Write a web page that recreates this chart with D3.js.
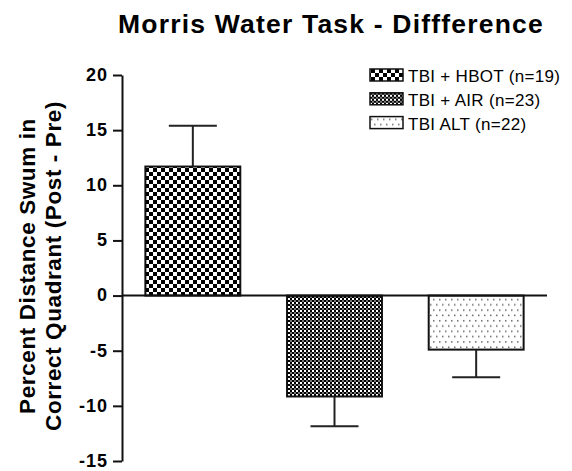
<!DOCTYPE html>
<html>
<head>
<meta charset="utf-8">
<script src="https://cdn.jsdelivr.net/npm/d3@7"></script>
<style>
  body { margin: 0; background: #fff; }
  text { font-family: "Liberation Sans", Arial, sans-serif; }
</style>
</head>
<body>
<div class="chart"></div>
<script>
/** chart data */
const groups = ['TBI + HBOT', 'TBI + AIR', 'TBI ALT'];
const legendLabels = ['TBI + HBOT (n=19)', 'TBI + AIR (n=23)', 'TBI ALT (n=22)'];
const means = [11.7, -9.15, -4.9];
const errors = [3.7, 2.7, 2.5];
const yTicks = [20, 15, 10, 5, 0, -5, -10, -15];

/** canvas */
let width = 572, height = 471;
let margin = { top: 75, right: 25, bottom: 10, left: 122 };

let svg = d3.select('.chart').append('svg')
    .attr('width', width)
    .attr('height', height);

/** fill patterns */
let defs = svg.append('defs');

let p1 = defs.append('pattern')
    .attr('id', 'pat0')
    .attr('patternUnits', 'userSpaceOnUse')
    .attr('x', 145).attr('y', 0)
    .attr('width', 8).attr('height', 8);
p1.append('rect').attr('width', 8).attr('height', 8).attr('fill', '#fff');
p1.append('rect').attr('width', 4).attr('height', 4).attr('fill', '#000');
p1.append('rect').attr('x', 4).attr('y', 4).attr('width', 4).attr('height', 4).attr('fill', '#000');

let p2 = defs.append('pattern')
    .attr('id', 'pat1')
    .attr('patternUnits', 'userSpaceOnUse')
    .attr('width', 4).attr('height', 4);
p2.append('rect').attr('width', 4).attr('height', 4).attr('fill', '#fff');
p2.append('rect').attr('width', 2).attr('height', 2).attr('fill', '#000');
p2.append('rect').attr('x', 2).attr('y', 2).attr('width', 2).attr('height', 2).attr('fill', '#000');
p2.append('rect').attr('x', 2).attr('y', 0).attr('width', 2).attr('height', 2).attr('fill', '#777');

let p3 = defs.append('pattern')
    .attr('id', 'pat2')
    .attr('patternUnits', 'userSpaceOnUse')
    .attr('width', 6).attr('height', 10.6);
p3.append('rect').attr('width', 6).attr('height', 10.6).attr('fill', '#fff');
p3.append('rect').attr('x', 1).attr('y', 2).attr('width', 1.5).attr('height', 1.5).attr('fill', '#666');
p3.append('rect').attr('x', 4).attr('y', 7.3).attr('width', 1.5).attr('height', 1.5).attr('fill', '#666');

/** scales */
let xScale = d3.scaleBand()
    .domain(groups)
    .range([margin.left, width - margin.right])
    .paddingInner(0.33)
    .paddingOuter(0.165);

let yScale = d3.scaleLinear()
    .domain([-15, 20])
    .range([height - margin.bottom, margin.top]);

/** title */
svg.append('text')
    .attr('x', 331)
    .attr('y', 33)
    .attr('text-anchor', 'middle')
    .style('font-size', '26.5px')
    .style('font-weight', 'bold')
    .style('letter-spacing', '1.2px')
    .text('Morris Water Task - Diffference');

/** y axis title */
let yTitle = svg.append('text')
    .attr('transform', 'translate(0,266) rotate(-90)')
    .attr('text-anchor', 'middle')
    .style('font-size', '22.5px')
    .style('font-weight', 'bold')
    .style('letter-spacing', '0.6px');
yTitle.append('tspan').attr('x', 0).attr('y', 35).text('Percent Distance Swum in');
yTitle.append('tspan').attr('x', 0).attr('y', 61).text('Correct Quadrant (Post - Pre)');

/** bars */
svg.selectAll('.bar')
    .data(means)
    .enter()
    .append('rect')
    .attr('class', 'bar')
    .attr('x', (d, i) => xScale(groups[i]))
    .attr('y', d => yScale(Math.max(0, d)))
    .attr('width', xScale.bandwidth())
    .attr('height', d => Math.abs(yScale(d) - yScale(0)))
    .attr('fill', (d, i) => `url(#pat${i})`)
    .attr('stroke', '#111')
    .attr('stroke-width', 2);

/** error bars */
let capHalf = 24;
let err = svg.selectAll('.err')
    .data(means)
    .enter()
    .append('g')
    .attr('class', 'err')
    .attr('stroke', '#222')
    .attr('stroke-width', 2);

err.append('line')
    .attr('x1', (d, i) => xScale(groups[i]) + xScale.bandwidth() / 2)
    .attr('x2', (d, i) => xScale(groups[i]) + xScale.bandwidth() / 2)
    .attr('y1', d => yScale(d))
    .attr('y2', (d, i) => yScale(d + Math.sign(d) * errors[i]));

err.append('line')
    .attr('x1', (d, i) => xScale(groups[i]) + xScale.bandwidth() / 2 - capHalf)
    .attr('x2', (d, i) => xScale(groups[i]) + xScale.bandwidth() / 2 + capHalf)
    .attr('y1', (d, i) => yScale(d + Math.sign(d) * errors[i]))
    .attr('y2', (d, i) => yScale(d + Math.sign(d) * errors[i]));

/** zero line */
svg.append('line')
    .attr('x1', margin.left)
    .attr('x2', width - margin.right)
    .attr('y1', yScale(0))
    .attr('y2', yScale(0))
    .attr('stroke', '#111')
    .attr('stroke-width', 2);

/** y axis */
let yAxis = d3.axisLeft(yScale)
    .tickValues(yTicks)
    .tickFormat(d => String(d))
    .tickSize(9)
    .tickPadding(5)
    .tickSizeOuter(0);

let yG = svg.append('g')
    .attr('transform', `translate(${margin.left},0)`)
    .call(yAxis);
yG.selectAll('path, line').attr('stroke', '#111').attr('stroke-width', 2);
yG.selectAll('text')
    .attr('dy', '0.3em')
    .style('font-family', '"Liberation Sans", Arial, sans-serif')
    .style('font-size', '18px')
    .style('font-weight', 'bold')
    .style('letter-spacing', '1px')
    .attr('fill', '#000');

/** legend */
let legend = svg.selectAll('.legend')
    .data(legendLabels)
    .enter()
    .append('g')
    .attr('class', 'legend')
    .attr('transform', (d, i) => `translate(370, ${69 + i * 23.8})`);

legend.append('rect')
    .attr('width', 33)
    .attr('height', 12)
    .attr('fill', (d, i) => `url(#pat${i})`)
    .attr('stroke', '#111')
    .attr('stroke-width', 1.5);

legend.append('text')
    .attr('x', 38)
    .attr('y', 13)
    .style('font-size', '17px')
    .style('letter-spacing', '0.3px')
    .text(d => d);
</script>
</body>
</html>
